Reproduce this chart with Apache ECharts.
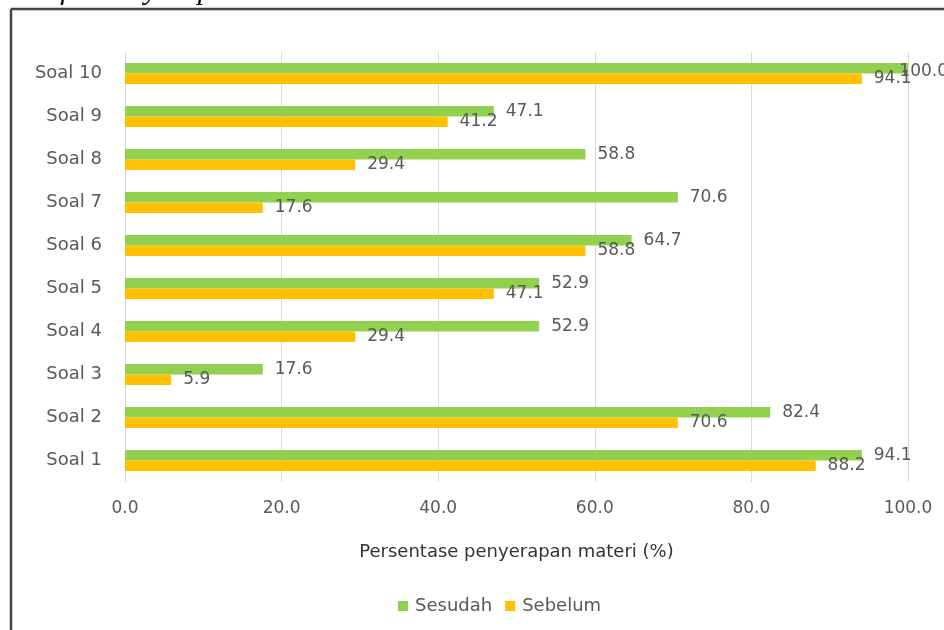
<!DOCTYPE html>
<html>
<head>
<meta charset="utf-8">
<script src="https://cdn.jsdelivr.net/npm/echarts@6/dist/echarts.min.js"></script>
<style>
html,body{margin:0;padding:0;background:#fff;}
#chart{width:944px;height:630px;}
</style>
</head>
<body>
<div id="chart"></div>
<script>
const categories = ['Soal 1','Soal 2','Soal 3','Soal 4','Soal 5','Soal 6','Soal 7','Soal 8','Soal 9','Soal 10'];
const sesudah = [94.1, 82.4, 17.6, 52.9, 52.9, 64.7, 70.6, 58.8, 47.1, 100.0];
const sebelum = [88.2, 70.6, 5.9, 29.4, 47.1, 58.8, 17.6, 29.4, 41.2, 94.1];
const seriesNames = ['Sesudah', 'Sebelum'];
const titleText = 'Grafik Penyerapan Materi oleh Peserta Sebelum dan Sesudah Pelatihan';
const axisTitle = 'Persentase penyerapan materi (%)';

const FONT = 'DejaVu Sans';
const chart = echarts.init(document.getElementById('chart'), null, {renderer: 'canvas'});

function labelCfg() {
  return {
    show: true,
    position: 'right',
    distance: 12,
    color: '#595959',
    fontFamily: FONT,
    fontSize: 17,
    formatter: p => p.value.toFixed(1)
  };
}

chart.setOption({
  animation: false,
  backgroundColor: '#ffffff',
  grid: {left: 125, right: 36, top: 52, bottom: 148, containLabel: false},
  legend: {
    data: seriesNames,
    left: 393,
    top: 592,
    icon: 'rect',
    itemWidth: 10,
    itemHeight: 10,
    itemGap: 13,
    textStyle: {color: '#595959', fontFamily: FONT, fontSize: 18, padding: [0,0,0,2]}
  },
  xAxis: {
    type: 'value',
    min: 0,
    max: 100,
    interval: 20,
    name: axisTitle,
    nameLocation: 'middle',
    nameGap: 61,
    nameTextStyle: {color: '#333333', fontFamily: FONT, fontSize: 18, verticalAlign: 'top'},
    axisLine: {show: false},
    axisTick: {show: false},
    axisLabel: {color: '#595959', fontFamily: FONT, fontSize: 17, margin: 18, formatter: v => v.toFixed(1)},
    splitLine: {show: true, lineStyle: {color: '#d9d9d9', width: 1}}
  },
  yAxis: {
    type: 'category',
    data: categories,
    axisLine: {show: false},
    axisTick: {show: false},
    axisLabel: {color: '#595959', fontFamily: FONT, fontSize: 18, margin: 23}
  },
  labelLayout: function (params) {
    const r = params.labelRect;
    if (r.x + r.width > 950) {
      return {x: 948 - r.width, dy: -5};
    }
  },
  series: [
    {
      name: seriesNames[0],
      type: 'bar',
      data: sesudah,
      barWidth: 10.5,
      barGap: '0%',
      itemStyle: {color: '#92D050'},
      label: labelCfg()
    },
    {
      name: seriesNames[1],
      type: 'bar',
      data: sebelum,
      barWidth: 10.5,
      barGap: '0%',
      itemStyle: {color: '#FFC000'},
      label: labelCfg()
    }
  ],
  graphic: [
    {
      type: 'text',
      left: 12,
      top: -24,
      style: {text: titleText, font: 'italic 30px "Liberation Serif"', fill: '#000'}
    },
    {
      type: 'line',
      shape: {x1: 11, y1: 9, x2: 944, y2: 9},
      style: {stroke: '#444', lineWidth: 2.5}
    },
    {
      type: 'line',
      shape: {x1: 11, y1: 9, x2: 11, y2: 630},
      style: {stroke: '#444', lineWidth: 2.5}
    }
  ]
});
</script>
</body>
</html>
